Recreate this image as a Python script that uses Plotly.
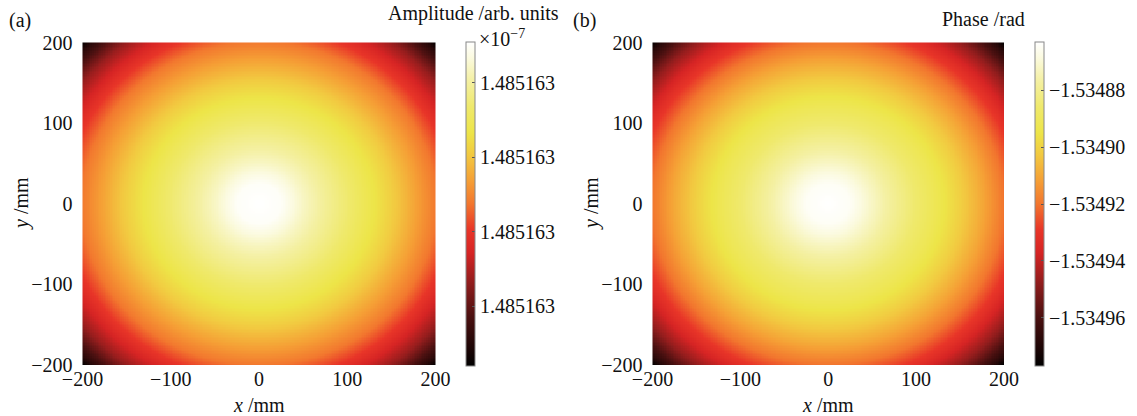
import numpy as np
import plotly.graph_objects as go

# ---- data (radial profiles, centre -> corner) ----
radius_mm = [0, 25, 50, 75, 100, 125, 150, 175, 200, 225, 250, 275, 283]
amplitude_e7 = [1.48516351, 1.48516350, 1.48516344, 1.48516339, 1.48516334,
                1.48516328, 1.48516322, 1.48516315, 1.48516308, 1.48516298,
                1.48516287, 1.48516271, 1.48516264]
phase_rad = [-1.5348630, -1.5348647, -1.5348721, -1.5348790, -1.5348858,
             -1.5348926, -1.5349006, -1.5349097, -1.5349200, -1.5349325,
             -1.5349474, -1.5349679, -1.5349770]
axis_ticks = [-200, -100, 0, 100, 200]
amp_tickvals = [1.4851628, 1.4851630, 1.4851632, 1.4851634]
amp_ticktext = ["1.485163"] * 4
phase_tickvals = [-1.53496, -1.53494, -1.53492, -1.53490, -1.53488]
phase_ticktext = ["\u22121.53496", "\u22121.53494", "\u22121.53492", "\u22121.53490", "\u22121.53488"]

grid = np.linspace(-200, 200, 201)
X, Y = np.meshgrid(grid, grid)
R = np.sqrt(X ** 2 + Y ** 2)
Z_amp = np.interp(R, radius_mm, amplitude_e7)
Z_ph = np.interp(R, radius_mm, phase_rad)

cscale = [
    [0.00, "#000000"],
    [0.05, "#1a0505"],
    [0.15, "#4a1010"],
    [0.25, "#8c1c1c"],
    [0.35, "#d62424"],
    [0.42, "#e83528"],
    [0.50, "#f2762e"],
    [0.57, "#f59e35"],
    [0.65, "#f2c840"],
    [0.72, "#ede548"],
    [0.80, "#efe96c"],
    [0.88, "#f4f0a2"],
    [0.95, "#fbfade"],
    [1.00, "#ffffff"],
]

FONT = "Liberation Serif"
FS = 20
W, H = 1137, 416

def px(x):
    return x / W

def py(y):
    return 1 - y / H

cb_common = dict(y=py(204), yanchor="middle", lenmode="pixels", len=324,
                 thickness=9, thicknessmode="pixels", xpad=0, ypad=0,
                 outlinewidth=1, outlinecolor="#888888",
                 ticks="inside", ticklen=3, tickcolor="#555555",
                 tickfont=dict(family=FONT, size=FS, color="#111111"))

fig = go.Figure()
fig.add_trace(go.Heatmap(
    x=grid, y=grid, z=Z_amp, colorscale=cscale, xaxis="x", yaxis="y",
    zmin=min(amplitude_e7), zmax=max(amplitude_e7),
    colorbar=dict(x=px(466), xanchor="left", tickvals=amp_tickvals,
                  ticktext=amp_ticktext, **cb_common),
))
fig.add_trace(go.Heatmap(
    x=grid, y=grid, z=Z_ph, colorscale=cscale, xaxis="x2", yaxis="y2",
    zmin=min(phase_rad), zmax=max(phase_rad),
    colorbar=dict(x=px(1035), xanchor="left", tickvals=phase_tickvals,
                  ticktext=phase_ticktext, **cb_common),
))

ax_common = dict(range=[-200, 200], tickvals=axis_ticks,
                 ticktext=[("\u2212" + str(-v)) if v < 0 else str(v) for v in axis_ticks],
                 showgrid=False, zeroline=False, showline=False,
                 tickfont=dict(family=FONT, size=FS, color="#111111"))
xa = dict(ticks="", **ax_common)
ya = dict(ticks="outside", ticklen=5, tickcolor="rgba(0,0,0,0)", **ax_common)

fig.update_layout(
    width=W, height=H, margin=dict(l=0, r=0, t=0, b=0, autoexpand=False),
    paper_bgcolor="white", plot_bgcolor="white",
    xaxis=dict(domain=[px(82.5), px(435.5)], anchor="y", **xa),
    yaxis=dict(domain=[py(365), py(42.5)], anchor="x", **ya),
    xaxis2=dict(domain=[px(652.5), px(1004)], anchor="y2", **xa),
    yaxis2=dict(domain=[py(365), py(42.5)], anchor="x2", **ya),
    font=dict(family=FONT, size=FS, color="#111111"),
)

anns = [
    dict(text="(a)", x=px(7), y=py(20), xanchor="left"),
    dict(text="(b)", x=px(571), y=py(20), xanchor="left"),
    dict(text="Amplitude /arb. units", x=px(561), y=py(14), xanchor="right"),
    dict(text="\u00d710<sup>\u22127</sup>", x=px(477), y=py(38), xanchor="left"),
    dict(text="Phase /rad", x=px(1027), y=py(19), xanchor="right"),
    dict(text="<i>x</i> /mm", x=px(259), y=py(405), xanchor="center"),
    dict(text="<i>x</i> /mm", x=px(828), y=py(405), xanchor="center"),
    dict(text="<i>y</i> /mm", x=px(21), y=py(204), xanchor="center", textangle=-90),
    dict(text="<i>y</i> /mm", x=px(591), y=py(204), xanchor="center", textangle=-90),
]
for a in anns:
    a.update(xref="paper", yref="paper", yanchor="middle", showarrow=False,
             font=dict(family=FONT, size=FS, color="#111111"))
fig.update_layout(annotations=anns)

fig.write_html("out.html")
